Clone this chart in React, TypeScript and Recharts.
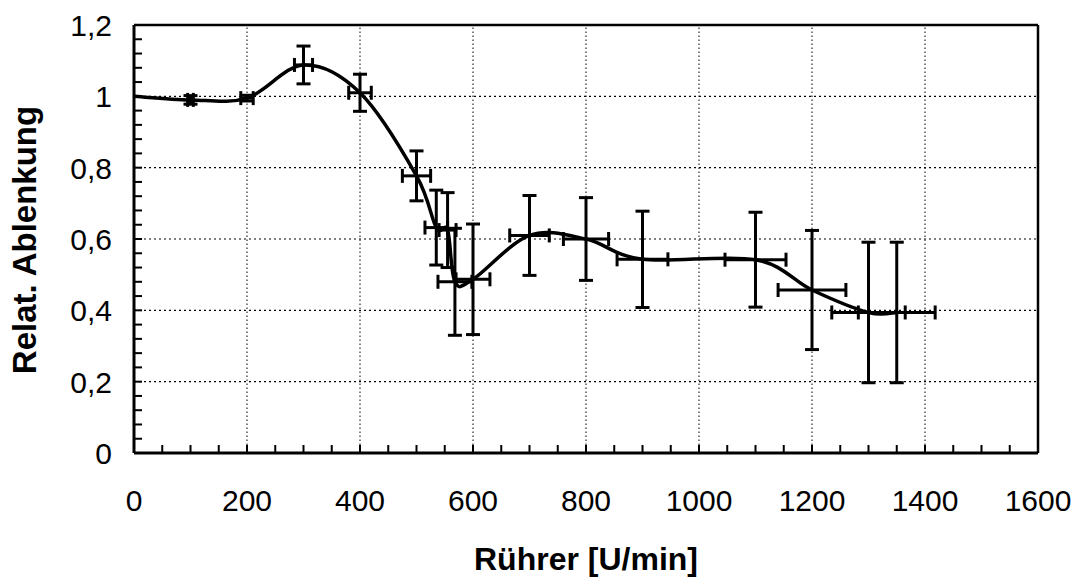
import React from "react";
import {
  ComposedChart, Line, Scatter, ErrorBar, XAxis, YAxis, ReferenceLine, Label,
} from "recharts";

// Stirrer speed vs. relative deflection
const RPM = [0, 100, 200, 300, 400, 500, 535, 555, 568, 600, 700, 800, 900, 1100, 1200, 1300, 1350];
const DEFLECTION = [1.0, 0.99, 0.995, 1.088, 1.01, 0.777, 0.632, 0.625, 0.48, 0.487, 0.61, 0.6, 0.543, 0.542, 0.457, 0.394, 0.394];
const RPM_ERR = [0, 5, 11, 16, 20, 25, 20, 15, 30, 30, 35, 40, 45, 54, 60, 65, 68];
const DEFL_ERR = [0, 0.012, 0.008, 0.053, 0.052, 0.07, 0.105, 0.105, 0.15, 0.155, 0.112, 0.116, 0.135, 0.133, 0.167, 0.197, 0.197];

const X_MAJOR = [0, 200, 400, 600, 800, 1000, 1200, 1400, 1600];
const Y_MAJOR = [0, 0.2, 0.4, 0.6, 0.8, 1, 1.2];
const Y_LABELS = ["0", "0,2", "0,4", "0,6", "0,8", "1", "1,2"];
const X_GRID = [200, 400, 600, 800, 1000, 1200, 1400];
const Y_GRID = [0.2, 0.4, 0.6, 0.8, 1];

// minor ticks: 4 between each x major, 4 between each y major
const X_TICKS: number[] = [];
for (let i = 0; i <= 32; i++) X_TICKS.push(i * 50);
const Y_TICKS: number[] = [];
for (let i = 0; i <= 30; i++) Y_TICKS.push(Math.round(i * 4) / 100);

const rows = RPM.map((x, i) => ({ x, y: DEFLECTION[i], ex: RPM_ERR[i], ey: DEFL_ERR[i] }));

const FONT = '"Liberation Sans", Arial, sans-serif';

// Excel-style smoothed line (uniform Catmull-Rom as cubic Bezier)
function smoothCurve(context: any) {
  let pts: number[][] = [];
  return {
    areaStart() {},
    areaEnd() {},
    lineStart() { pts = []; },
    point(x: number, y: number) { pts.push([+x, +y]); },
    lineEnd() {
      const n = pts.length;
      if (!n) return;
      context.moveTo(pts[0][0], pts[0][1]);
      for (let i = 0; i < n - 1; i++) {
        const p0 = pts[i - 1] || pts[i];
        const p1 = pts[i];
        const p2 = pts[i + 1];
        const p3 = pts[i + 2] || p2;
        context.bezierCurveTo(
          p1[0] + (p2[0] - p0[0]) / 6, p1[1] + (p2[1] - p0[1]) / 6,
          p2[0] - (p3[0] - p1[0]) / 6, p2[1] - (p3[1] - p1[1]) / 6,
          p2[0], p2[1],
        );
      }
    },
  };
}

const isMajor = (v: number, step: number) => Math.abs(v / step - Math.round(v / step)) < 1e-6;

function XTick({ x, y, payload }: any) {
  if (!isMajor(payload.value, 200)) return null;
  return (
    <text x={x} y={y + 66} textAnchor="middle" fontFamily={FONT} fontSize={30} fill="#000">
      {payload.value}
    </text>
  );
}

function YTick({ x, y, payload }: any) {
  if (!isMajor(payload.value, 0.2)) return null;
  const idx = Y_MAJOR.findIndex(v => Math.abs(v - payload.value) < 1e-6);
  return (
    <text x={x} y={y + 11} textAnchor="end" fontFamily={FONT} fontSize={30} fill="#000">
      {Y_LABELS[idx]}
    </text>
  );
}

export default function App() {
  return (
    <div style={{ position: "absolute", left: 0, top: 0, background: "#fff" }}>
      <ComposedChart width={1078} height={579} margin={{ top: 25, right: 40, bottom: 0, left: 0 }}>
        <XAxis
          dataKey="x"
          type="number"
          domain={[0, 1600]}
          ticks={X_TICKS}
          interval={0}
          height={126}
          tickSize={-8}
          tickMargin={0}
          tick={<XTick />}
          axisLine={{ stroke: "#000", strokeWidth: 3 }}
          tickLine={{ stroke: "#000", strokeWidth: 2 }}
        >
          <Label
            content={() => (
              <text x={586} y={570} textAnchor="middle" fontFamily={FONT} fontWeight="bold" fontSize={32} fill="#000">
                Rührer [U/min]
              </text>
            )}
          />
        </XAxis>
        <YAxis
          type="number"
          domain={[0, 1.2]}
          ticks={Y_TICKS}
          interval={0}
          width={134}
          tickSize={-8}
          tickMargin={30}
          tick={<YTick />}
          axisLine={{ stroke: "#000", strokeWidth: 3 }}
          tickLine={{ stroke: "#000", strokeWidth: 2 }}
        >
          <Label
            content={() => (
              <text x={36} y={240} transform="rotate(-90 36 240)" textAnchor="middle" fontFamily={FONT} fontWeight="bold" fontSize={33} fill="#000">
                Relat. Ablenkung
              </text>
            )}
          />
        </YAxis>

        {X_GRID.map(v => (
          <ReferenceLine key={"gx" + v} x={v} stroke="#000" strokeWidth={1} strokeDasharray="1.5 2.5" />
        ))}
        {Y_GRID.map(v => (
          <ReferenceLine key={"gy" + v} y={v} stroke="#000" strokeWidth={1.2} strokeDasharray="2 3" />
        ))}
        <ReferenceLine y={1.2} stroke="#000" strokeWidth={2.5} />
        <ReferenceLine x={1600} stroke="#000" strokeWidth={2.5} />

        <Line
          data={rows}
          dataKey="y"
          type={smoothCurve as any}
          stroke="#000"
          strokeWidth={3.5}
          dot={false}
          activeDot={false}
          isAnimationActive={false}
        />
        <Scatter data={rows} dataKey="y" shape={() => <g />} isAnimationActive={false}>
          <ErrorBar dataKey="ey" direction="y" width={7} stroke="#000" strokeWidth={3} isAnimationActive={false} />
          <ErrorBar dataKey="ex" direction="x" width={7} stroke="#000" strokeWidth={3} isAnimationActive={false} />
        </Scatter>
      </ComposedChart>
    </div>
  );
}
